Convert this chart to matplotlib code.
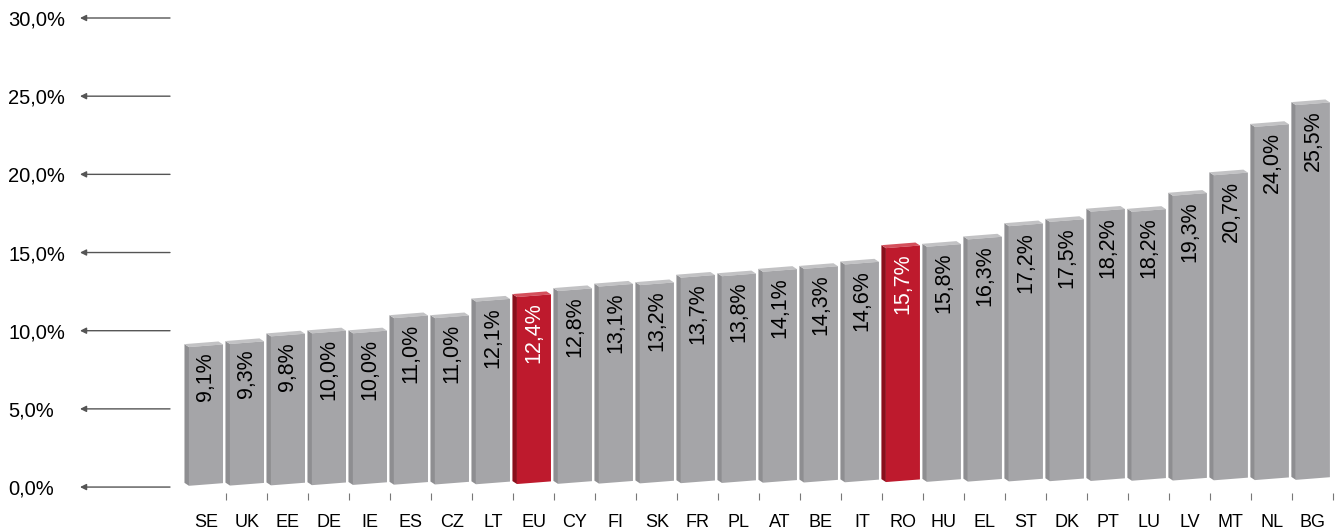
import numpy as np
import matplotlib
matplotlib.use('Agg')
import matplotlib.pyplot as plt
from matplotlib.patches import Polygon

plt.rcParams['font.family'] = ['Liberation Sans', 'DejaVu Sans']

countries = ['SE', 'UK', 'EE', 'DE', 'IE', 'ES', 'CZ', 'LT', 'EU', 'CY', 'FI', 'SK', 'FR', 'PL',
             'AT', 'BE', 'IT', 'RO', 'HU', 'EL', 'ST', 'DK', 'PT', 'LU', 'LV', 'MT', 'NL', 'BG']
values = [9.1, 9.3, 9.8, 10.0, 10.0, 11.0, 11.0, 12.1, 12.4, 12.8, 13.1, 13.2, 13.7, 13.8,
          14.1, 14.3, 14.6, 15.7, 15.8, 16.3, 17.2, 17.5, 18.2, 18.2, 19.3, 20.7, 24.0, 25.5]
highlight = ['EU', 'RO']
yticks = [0, 5, 10, 15, 20, 25, 30]

# colours (front, side, top)
gray = ('#a5a5a8', '#8e8e91', '#c2c2c4')
red = ('#be1a2d', '#8a0f1c', '#d4505c')

# fake 3d look (Excel style)
w = 0.83          # front face width
dx = 0.11         # depth to the left
dy = 0.19         # depth upwards (in %)
skew = 0.17       # front face rises to the right
base0, rise = 0.08, 0.38
persp0, persp1 = 0.975, 0.94

W, H = 1342, 532
fig = plt.figure(figsize=(W / 100, H / 100), dpi=100)
ax = fig.add_axes([170 / W, (H - 493) / H, (W - 170) / W, (493 - 18) / H])
ax.set_xlim(-0.878, 27.71)
ax.set_ylim(-0.38, 30)

n = len(values)
for i, (c, v) in enumerate(zip(countries, values)):
    cols = red if c in highlight else gray
    f = i / (n - 1)
    b = base0 + rise * f
    t = b + v * (persp0 + (persp1 - persp0) * f)
    x0, x1 = i - w / 2, i + w / 2
    front = [(x0, b), (x1, b + skew), (x1, t + skew), (x0, t)]
    side = [(x0 - dx, b + dy), (x0, b), (x0, t), (x0 - dx, t + dy)]
    top = [(x0, t), (x1, t + skew), (x1 - dx, t + skew + dy), (x0 - dx, t + dy)]
    ax.add_patch(Polygon(side, closed=True, facecolor=cols[1], edgecolor='none'))
    ax.add_patch(Polygon(top, closed=True, facecolor=cols[2], edgecolor='none'))
    ax.add_patch(Polygon(front, closed=True, facecolor=cols[0], edgecolor='none'))
    txt = ('%.1f' % v).replace('.', ',') + '%'
    ax.annotate(txt, xy=(i, t + skew / 2), xytext=(0, -5), textcoords='offset points',
                rotation=90, ha='center', va='top', fontsize=15.5,
                color='white' if c in highlight else 'black')

ax.set_xticks(np.arange(n))
ax.set_xticklabels(countries, fontsize=13)
ax.set_xticks(np.arange(n) + 0.5, minor=True)
ax.tick_params(axis='x', which='major', length=0, pad=15)
ax.tick_params(axis='x', which='minor', length=5, width=0.8, color='#777777', direction='out')

ax.set_yticks(yticks)
ax.set_yticklabels([('%.1f' % y).replace('.', ',') + '%' for y in yticks], fontsize=14.5)
ax.tick_params(axis='y', length=0, pad=116.6)
for lab in ax.get_yticklabels():
    lab.set_horizontalalignment('left')

for y in yticks:
    ax.annotate('', xy=(80, y), xytext=(170, y), xycoords=('figure pixels', 'data'),
                textcoords=('figure pixels', 'data'),
                arrowprops=dict(arrowstyle='-|>', color='#555555', lw=1,
                                mutation_scale=9, shrinkA=0, shrinkB=0))

for s in ax.spines.values():
    s.set_visible(False)

plt.savefig('out.png', dpi=100)
